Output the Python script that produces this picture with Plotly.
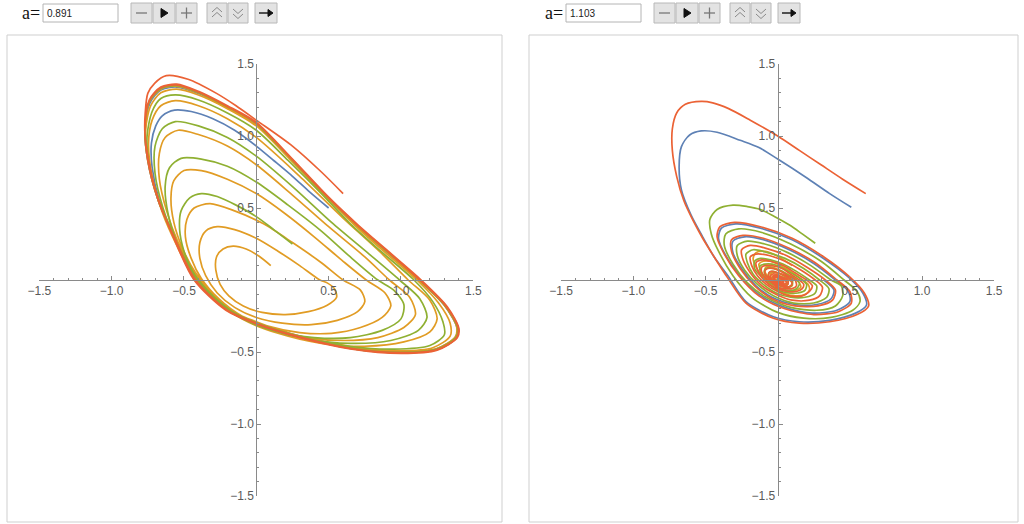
import plotly.graph_objects as go

W, H = 1024, 524

# ---------------- data ----------------
A_LABELS = ["0.891", "1.103"]
TICK_VALS = [-1.5, -1.0, -0.5, 0.5, 1.0, 1.5]
TICK_TEXT = ["\u22121.5", "\u22121.0", "\u22120.5", "0.5", "1.0", "1.5"]
SERIES_ORDER = ["blue", "orange", "green", "red"]
COLORS = {"blue": "#5E81B5", "orange": "#E19C24", "green": "#8FB032", "red": "#EB6235"}

# left panel (a = 0.891): trajectories approaching a limit cycle
LEFT_BLUE = [(0.50, 0.50), (0.37, 0.61), (0.25, 0.72), (0.12, 0.83), (0.0, 0.93), (-0.15, 1.04), (-0.30, 1.12),
             (-0.45, 1.17), (-0.565, 1.18), (-0.65, 1.14), (-0.695, 1.07), (-0.725, 0.95), (-0.72, 0.78),
             (-0.67, 0.55), (-0.56, 0.28), (-0.425, 0.0), (-0.2, -0.205), (0.0, -0.297), (0.3, -0.39),
             (0.65, -0.47), (1.0, -0.50), (1.245, -0.478), (1.378, -0.396), (1.386, -0.326), (1.30, -0.176),
             (1.122, 0.0), (0.895, 0.2), (0.695, 0.375), (0.495, 0.565), (0.25, 0.83), (0.0, 1.08),
             (-0.2, 1.195), (-0.4, 1.295), (-0.55, 1.34), (-0.66, 1.32), (-0.735, 1.23), (-0.768, 1.05),
             (-0.75, 0.83), (-0.68, 0.56), (-0.56, 0.28), (-0.42, 0.0), (-0.2, -0.21), (0.0, -0.30),
             (0.3, -0.395), (0.65, -0.475), (1.0, -0.505), (1.25, -0.483), (1.385, -0.40), (1.395, -0.33),
             (1.31, -0.18), (1.13, 0.0)]

LEFT_ORANGE = [(0.10, 0.10), (0.02, 0.165), (-0.07, 0.215), (-0.16, 0.235), (-0.23, 0.215), (-0.275, 0.16),
               (-0.28, 0.07), (-0.25, -0.03), (-0.19, -0.11), (-0.09, -0.18), (0.04, -0.225), (0.20, -0.24),
               (0.36, -0.22), (0.49, -0.175), (0.555, -0.12), (0.54, -0.06), (0.49, -0.02), (0.44, 0.0),
               (0.30, 0.10), (0.15, 0.20), (0.0, 0.29), (-0.15, 0.35), (-0.27, 0.37), (-0.35, 0.34),
               (-0.39, 0.26), (-0.39, 0.15), (-0.35, 0.03), (-0.27, -0.09), (-0.15, -0.19), (0.0, -0.26),
               (0.18, -0.30), (0.38, -0.31), (0.56, -0.28), (0.70, -0.22), (0.75, -0.15), (0.72, -0.07),
               (0.60, 0.0),
               (0.45, 0.12), (0.25, 0.26), (0.05, 0.39), (-0.15, 0.48), (-0.32, 0.53), (-0.43, 0.50),
               (-0.48, 0.42), (-0.49, 0.30), (-0.45, 0.15), (-0.38, 0.01), (-0.26, -0.13), (-0.10, -0.25),
               (0.08, -0.32), (0.30, -0.365), (0.52, -0.37), (0.72, -0.33), (0.87, -0.26), (0.93, -0.18),
               (0.89, -0.09), (0.76, 0.0),
               (0.6, 0.13), (0.4, 0.30), (0.2, 0.46), (0.0, 0.60), (-0.2, 0.70), (-0.38, 0.76), (-0.50, 0.76),
               (-0.57, 0.69), (-0.59, 0.57), (-0.57, 0.40), (-0.51, 0.22), (-0.42, 0.05), (-0.28, -0.12),
               (-0.10, -0.26), (0.10, -0.34), (0.35, -0.40), (0.60, -0.42), (0.84, -0.40), (1.02, -0.33),
               (1.10, -0.24), (1.06, -0.12), (0.92, 0.0),
               (0.75, 0.16), (0.5, 0.37), (0.25, 0.59), (0.0, 0.80), (-0.2, 0.93), (-0.40, 1.01), (-0.54, 1.04),
               (-0.63, 0.99), (-0.67, 0.88), (-0.67, 0.70), (-0.62, 0.48), (-0.54, 0.26), (-0.43, 0.05),
               (-0.28, -0.13), (-0.10, -0.27), (0.15, -0.37), (0.45, -0.44), (0.75, -0.46), (1.02, -0.43),
               (1.20, -0.36), (1.25, -0.27), (1.20, -0.14), (1.05, 0.0),
               (0.85, 0.20), (0.6, 0.43), (0.3, 0.72), (0.0, 0.99), (-0.2, 1.12), (-0.40, 1.21), (-0.56, 1.245),
               (-0.66, 1.21), (-0.72, 1.11), (-0.745, 0.95), (-0.72, 0.72), (-0.65, 0.47), (-0.55, 0.24),
               (-0.43, 0.02), (-0.22, -0.19), (0.0, -0.29), (0.30, -0.39), (0.65, -0.46), (1.0, -0.49),
               (1.22, -0.47), (1.34, -0.39), (1.34, -0.30), (1.26, -0.16), (1.11, 0.0),
               (0.88, 0.20), (0.68, 0.38), (0.48, 0.58), (0.25, 0.82), (0.0, 1.07), (-0.2, 1.19), (-0.40, 1.285),
               (-0.55, 1.325), (-0.66, 1.30), (-0.73, 1.21), (-0.765, 1.04), (-0.745, 0.82), (-0.675, 0.55),
               (-0.555, 0.275), (-0.42, 0.0), (-0.2, -0.205), (0.0, -0.295), (0.3, -0.39), (0.65, -0.47),
               (1.0, -0.50), (1.245, -0.478), (1.375, -0.395), (1.385, -0.325), (1.30, -0.175), (1.125, 0.0),
               (0.9, 0.2), (0.7, 0.375), (0.5, 0.565), (0.25, 0.83), (0.0, 1.085), (-0.2, 1.2), (-0.4, 1.3),
               (-0.55, 1.345), (-0.66, 1.325), (-0.74, 1.235), (-0.77, 1.05)]

LEFT_GREEN = [(0.25, 0.25), (0.12, 0.35), (0.0, 0.44), (-0.14, 0.52), (-0.27, 0.58), (-0.38, 0.60), (-0.46, 0.57),
              (-0.52, 0.48), (-0.53, 0.35), (-0.50, 0.20), (-0.44, 0.06), (-0.35, -0.06), (-0.22, -0.18),
              (-0.05, -0.29), (0.15, -0.36), (0.40, -0.40), (0.65, -0.40), (0.87, -0.35), (1.00, -0.27),
              (1.02, -0.17), (0.95, -0.07), (0.84, 0.0),
              (0.65, 0.16), (0.45, 0.34), (0.22, 0.52), (0.0, 0.68), (-0.2, 0.79), (-0.38, 0.84), (-0.52, 0.845),
              (-0.60, 0.78), (-0.63, 0.65), (-0.61, 0.46), (-0.55, 0.26), (-0.46, 0.07), (-0.33, -0.10),
              (-0.15, -0.24), (0.08, -0.34), (0.35, -0.41), (0.65, -0.44), (0.93, -0.42), (1.12, -0.35),
              (1.18, -0.26), (1.13, -0.13), (0.99, 0.0),
              (0.78, 0.18), (0.52, 0.40), (0.26, 0.64), (0.0, 0.86), (-0.2, 0.99), (-0.40, 1.07), (-0.56, 1.10),
              (-0.65, 1.05), (-0.70, 0.93), (-0.70, 0.74), (-0.645, 0.50), (-0.555, 0.27), (-0.43, 0.04),
              (-0.25, -0.16), (-0.05, -0.28), (0.25, -0.38), (0.60, -0.455), (0.95, -0.48), (1.20, -0.455),
              (1.30, -0.38), (1.29, -0.29), (1.22, -0.15), (1.09, 0.0),
              (0.86, 0.20), (0.65, 0.39), (0.45, 0.60), (0.22, 0.83), (0.0, 1.04), (-0.2, 1.16), (-0.40, 1.25),
              (-0.56, 1.285), (-0.66, 1.26), (-0.72, 1.17), (-0.755, 1.00), (-0.74, 0.80), (-0.67, 0.54),
              (-0.555, 0.27), (-0.42, 0.0), (-0.2, -0.205), (0.0, -0.297), (0.3, -0.392), (0.65, -0.472),
              (1.0, -0.502), (1.25, -0.48), (1.38, -0.397), (1.39, -0.327), (1.305, -0.178), (1.128, 0.0),
              (0.9, 0.203), (0.7, 0.378), (0.5, 0.568), (0.25, 0.833), (0.0, 1.088), (-0.2, 1.203),
              (-0.4, 1.303), (-0.55, 1.35), (-0.66, 1.33), (-0.74, 1.24), (-0.77, 1.05), (-0.75, 0.83),
              (-0.68, 0.56), (-0.56, 0.28), (-0.42, 0.0), (-0.2, -0.21), (0.0, -0.30), (0.3, -0.395),
              (0.65, -0.475), (1.0, -0.505), (1.25, -0.483), (1.385, -0.40), (1.395, -0.33), (1.31, -0.18),
              (1.13, 0.0), (0.9, 0.205), (0.7, 0.38), (0.5, 0.57), (0.25, 0.835), (0.0, 1.09)]

LEFT_RED = [(0.60, 0.60), (0.45, 0.75), (0.25, 0.93), (0.0, 1.11), (-0.14, 1.21), (-0.275, 1.296), (-0.472, 1.394),
            (-0.622, 1.419), (-0.703, 1.366), (-0.75, 1.296), (-0.768, 1.157), (-0.77, 1.02), (-0.745, 0.83),
            (-0.69, 0.60), (-0.57, 0.29), (-0.43, 0.0), (-0.21, -0.21), (0.0, -0.305), (0.30, -0.40),
            (0.65, -0.478), (1.0, -0.51), (1.25, -0.488), (1.39, -0.40), (1.40, -0.335), (1.32, -0.185),
            (1.14, 0.0), (0.9, 0.21), (0.7, 0.385), (0.5, 0.575), (0.25, 0.84), (0.0, 1.095), (-0.2, 1.21),
            (-0.40, 1.31), (-0.55, 1.36), (-0.66, 1.34), (-0.74, 1.25), (-0.77, 1.06), (-0.75, 0.83),
            (-0.68, 0.56), (-0.56, 0.28), (-0.42, 0.0), (-0.2, -0.21), (0.0, -0.30), (0.3, -0.395),
            (0.65, -0.475), (1.0, -0.505), (1.25, -0.483), (1.385, -0.40), (1.395, -0.33), (1.31, -0.18),
            (1.13, 0.0), (0.9, 0.205), (0.7, 0.38), (0.5, 0.57), (0.25, 0.835), (0.0, 1.09), (-0.2, 1.205),
            (-0.40, 1.305), (-0.55, 1.355), (-0.66, 1.335), (-0.74, 1.245), (-0.77, 1.055), (-0.75, 0.83),
            (-0.68, 0.56), (-0.56, 0.28), (-0.42, 0.0), (-0.2, -0.21), (0.0, -0.30), (0.3, -0.395),
            (0.65, -0.475), (1.0, -0.505), (1.25, -0.483), (1.385, -0.40), (1.395, -0.33), (1.31, -0.18),
            (1.13, 0.0), (0.9, 0.205)]

# right panel (a = 1.103): trajectories spiralling into the origin
RIGHT_BLUE = [(0.51, 0.505), (0.36, 0.60), (0.20, 0.71), (0.0, 0.84), (-0.13, 0.92), (-0.26, 0.97), (-0.42, 1.026),
              (-0.53, 1.035), (-0.61, 1.007), (-0.667, 0.926), (-0.683, 0.787), (-0.667, 0.625), (-0.60, 0.45),
              (-0.52, 0.30), (-0.44, 0.16), (-0.345, 0.03), (-0.22, -0.15), (-0.03, -0.255), (0.15, -0.29),
              (0.36, -0.28), (0.54, -0.23), (0.615, -0.175), (0.59, -0.09), (0.49, 0.02), (0.31, 0.155),
              (0.10, 0.28), (-0.12, 0.36), (-0.29, 0.39), (-0.39, 0.36), (-0.41, 0.29), (-0.36, 0.17),
              (-0.26, 0.03), (-0.13, -0.10), (0.05, -0.19), (0.24, -0.23), (0.41, -0.21), (0.50, -0.15),
              (0.49, -0.08), (0.40, 0.0), (0.25, 0.115), (0.08, 0.21), (-0.10, 0.28), (-0.23, 0.30),
              (-0.31, 0.27), (-0.31, 0.19), (-0.25, 0.08), (-0.15, -0.04), (-0.04, -0.12), (0.12, -0.17),
              (0.27, -0.17), (0.37, -0.13), (0.39, -0.07), (0.32, 0.0)]

RIGHT_ORANGE = [(0.10, 0.10), (0.04, 0.14), (-0.03, 0.18), (-0.10, 0.20), (-0.15, 0.19), (-0.17, 0.15), (-0.15, 0.09),
                (-0.10, 0.02), (-0.04, -0.04), (0.04, -0.09), (0.12, -0.11), (0.19, -0.10), (0.22, -0.07),
                (0.21, -0.03), (0.16, 0.01), (0.09, 0.06), (0.02, 0.10), (-0.05, 0.13), (-0.10, 0.13),
                (-0.13, 0.11), (-0.12, 0.07), (-0.09, 0.02), (-0.04, -0.02), (0.02, -0.06), (0.08, -0.08),
                (0.13, -0.07), (0.16, -0.05), (0.15, -0.02), (0.12, 0.01), (0.07, 0.04), (0.01, 0.07),
                (-0.04, 0.09), (-0.08, 0.09), (-0.09, 0.07), (-0.08, 0.04), (-0.05, 0.01), (-0.01, -0.02),
                (0.03, -0.04), (0.07, -0.05), (0.10, -0.04), (0.10, -0.02), (0.08, 0.0), (0.04, 0.03),
                (0.0, 0.05), (-0.04, 0.05), (-0.05, 0.04), (-0.04, 0.01), (-0.01, -0.01), (0.03, -0.03),
                (0.06, -0.03), (0.06, -0.01), (0.03, 0.01), (0.0, 0.03), (-0.03, 0.03), (-0.03, 0.01),
                (0.0, -0.01), (0.03, -0.02), (0.03, 0.0), (0.0, 0.01), (-0.01, 0.0), (0.0, 0.0)]

RIGHT_GREEN = [(0.26, 0.255), (0.17, 0.32), (0.085, 0.38), (-0.02, 0.44), (-0.12, 0.49), (-0.21, 0.51), (-0.31, 0.52),
               (-0.42, 0.49), (-0.47, 0.42), (-0.46, 0.32), (-0.41, 0.20), (-0.31, 0.03), (-0.18, -0.12),
               (0.0, -0.225), (0.18, -0.265), (0.37, -0.26), (0.52, -0.21), (0.57, -0.15), (0.55, -0.08),
               (0.46, 0.0), (0.30, 0.13), (0.09, 0.25), (-0.11, 0.33), (-0.27, 0.355), (-0.36, 0.32),
               (-0.37, 0.24), (-0.31, 0.11), (-0.21, -0.02), (-0.08, -0.12), (0.09, -0.19), (0.27, -0.21),
               (0.40, -0.18), (0.45, -0.11), (0.44, -0.04),
               (0.37, 0.0), (0.23, 0.10), (0.07, 0.19), (-0.09, 0.25), (-0.21, 0.27), (-0.28, 0.24),
               (-0.28, 0.17), (-0.23, 0.07), (-0.14, -0.03), (-0.03, -0.11), (0.11, -0.16), (0.25, -0.16),
               (0.34, -0.12), (0.355, -0.06),
               (0.29, 0.0), (0.18, 0.08), (0.05, 0.15), (-0.07, 0.19), (-0.17, 0.21), (-0.22, 0.18),
               (-0.21, 0.12), (-0.17, 0.04), (-0.10, -0.03), (-0.01, -0.09), (0.09, -0.12), (0.19, -0.12),
               (0.26, -0.09), (0.27, -0.04),
               (0.22, 0.0), (0.13, 0.06), (0.04, 0.11), (-0.05, 0.14), (-0.12, 0.15), (-0.16, 0.13),
               (-0.16, 0.08), (-0.12, 0.03), (-0.07, -0.02), (0.0, -0.07), (0.07, -0.09), (0.14, -0.09),
               (0.19, -0.07), (0.20, -0.03),
               (0.17, 0.0), (0.10, 0.045), (0.03, 0.085), (-0.04, 0.11), (-0.09, 0.11), (-0.12, 0.10),
               (-0.12, 0.06), (-0.09, 0.02), (-0.05, -0.02), (0.0, -0.05), (0.06, -0.07), (0.11, -0.07),
               (0.14, -0.05), (0.15, -0.02),
               (0.13, 0.0), (0.07, 0.035), (0.02, 0.065), (-0.03, 0.08), (-0.07, 0.085), (-0.09, 0.07),
               (-0.09, 0.04), (-0.06, 0.01), (-0.03, -0.02), (0.01, -0.04), (0.05, -0.05), (0.08, -0.05),
               (0.10, -0.03),
               (0.10, 0.0), (0.05, 0.03), (0.0, 0.05), (-0.04, 0.06), (-0.06, 0.05), (-0.06, 0.02),
               (-0.03, -0.01), (0.01, -0.03), (0.05, -0.04), (0.07, -0.03), (0.07, 0.0), (0.03, 0.02),
               (-0.01, 0.03), (-0.03, 0.02), (-0.02, 0.0), (0.01, -0.01), (0.0, 0.0)]

RIGHT_RED = [(0.61, 0.60), (0.45, 0.70), (0.30, 0.80), (0.15, 0.90), (0.0, 1.0), (-0.19, 1.11), (-0.34, 1.19),
             (-0.45, 1.23), (-0.53, 1.24), (-0.64, 1.22), (-0.70, 1.16), (-0.73, 1.05), (-0.73, 0.90),
             (-0.70, 0.72), (-0.65, 0.55), (-0.585, 0.41), (-0.52, 0.29), (-0.44, 0.16), (-0.35, 0.02),
             (-0.22, -0.16), (-0.03, -0.266), (0.15, -0.30), (0.36, -0.29), (0.55, -0.24), (0.63, -0.18),
             (0.60, -0.09), (0.50, 0.02), (0.32, 0.16), (0.10, 0.29), (-0.12, 0.37), (-0.30, 0.40),
             (-0.40, 0.37), (-0.42, 0.30), (-0.37, 0.18), (-0.27, 0.03), (-0.13, -0.11), (0.05, -0.20),
             (0.25, -0.24), (0.42, -0.22), (0.51, -0.16), (0.50, -0.08),
             (0.41, 0.0), (0.26, 0.12), (0.08, 0.22), (-0.10, 0.29), (-0.24, 0.31), (-0.32, 0.28),
             (-0.32, 0.20), (-0.26, 0.08), (-0.16, -0.04), (-0.04, -0.13), (0.12, -0.18), (0.28, -0.18),
             (0.38, -0.14), (0.40, -0.07),
             (0.33, 0.0), (0.20, 0.09), (0.06, 0.17), (-0.08, 0.22), (-0.19, 0.24), (-0.25, 0.21),
             (-0.24, 0.14), (-0.19, 0.05), (-0.11, -0.04), (-0.01, -0.10), (0.10, -0.14), (0.22, -0.14),
             (0.29, -0.11), (0.31, -0.05),
             (0.26, 0.0), (0.16, 0.07), (0.05, 0.13), (-0.06, 0.17), (-0.15, 0.18), (-0.19, 0.16),
             (-0.18, 0.10), (-0.14, 0.03), (-0.08, -0.03), (0.0, -0.08), (0.08, -0.11), (0.17, -0.11),
             (0.22, -0.08), (0.24, -0.04),
             (0.20, 0.0), (0.12, 0.05), (0.04, 0.10), (-0.05, 0.13), (-0.11, 0.14), (-0.15, 0.12),
             (-0.14, 0.07), (-0.11, 0.02), (-0.06, -0.03), (0.0, -0.06), (0.07, -0.08), (0.13, -0.08),
             (0.17, -0.06), (0.18, -0.03),
             (0.15, 0.0), (0.09, 0.04), (0.03, 0.08), (-0.04, 0.10), (-0.09, 0.10), (-0.11, 0.09),
             (-0.11, 0.05), (-0.08, 0.01), (-0.04, -0.02), (0.0, -0.05), (0.05, -0.06), (0.10, -0.06),
             (0.13, -0.04),
             (0.12, 0.0), (0.07, 0.03), (0.02, 0.06), (-0.03, 0.08), (-0.07, 0.08), (-0.09, 0.06),
             (-0.08, 0.03), (-0.05, 0.0), (-0.02, -0.03), (0.02, -0.04), (0.06, -0.05), (0.09, -0.04),
             (0.10, -0.02),
             (0.09, 0.0), (0.05, 0.03), (0.0, 0.05), (-0.04, 0.06), (-0.06, 0.05), (-0.06, 0.02),
             (-0.03, -0.01), (0.01, -0.03), (0.05, -0.04), (0.07, -0.03),
             (0.07, 0.0), (0.03, 0.02), (-0.01, 0.04), (-0.04, 0.04), (-0.05, 0.02), (-0.03, -0.01),
             (0.0, -0.02), (0.04, -0.03), (0.06, -0.02),
             (0.05, 0.0), (0.02, 0.02), (-0.01, 0.03), (-0.03, 0.03), (-0.03, 0.01), (-0.01, -0.01),
             (0.02, -0.02), (0.04, -0.02),
             (0.04, 0.0), (0.02, 0.015), (-0.01, 0.025), (-0.025, 0.02), (-0.02, 0.0), (0.0, -0.015),
             (0.03, -0.015),
             (0.03, 0.0), (0.0, 0.02), (-0.02, 0.01), (-0.01, -0.01), (0.02, -0.01), (0.01, 0.0), (0.0, 0.0)]

LEFT_SERIES = {"blue": LEFT_BLUE, "orange": LEFT_ORANGE, "green": LEFT_GREEN, "red": LEFT_RED}
RIGHT_SERIES = {"blue": RIGHT_BLUE, "orange": RIGHT_ORANGE, "green": RIGHT_GREEN, "red": RIGHT_RED}

# ---------------- layout helpers (pixel geometry) ----------------
def fx(x):
    return x / W


def fy(y):
    return 1 - y / H


PANELS = [
    dict(series=LEFT_SERIES, xpix=(39.3, 473.3), ypix=(64.0, 496.0), ox=256.3, oy=280.0,
         box=(7, 35, 502, 522), dx=0),
    dict(series=RIGHT_SERIES, xpix=(561.2, 994.2), ypix=(64.0, 496.0), ox=777.7, oy=280.0,
         box=(529, 35, 1018, 522), dx=523),
]

fig = go.Figure()
shapes = []
annotations = []
AX_COLOR = "#8a8a8a"
LABEL_FONT = dict(family="Liberation Sans, Arial, sans-serif", size=12, color="#5a5a5a")

for i, p in enumerate(PANELS):
    sfx = "" if i == 0 else str(i + 1)
    xa, ya = "x" + sfx, "y" + sfx
    for name in SERIES_ORDER:
        pts = p["series"][name]
        fig.add_trace(go.Scatter(
            x=[q[0] for q in pts], y=[q[1] for q in pts], mode="lines",
            line=dict(color=COLORS[name], width=1.7, shape="spline", smoothing=0.8),
            xaxis=xa, yaxis=ya, showlegend=False, hoverinfo="skip"))
    common = dict(range=[-1.5, 1.5], showgrid=False, zeroline=False, showline=True, automargin=False,
                  linecolor=AX_COLOR, linewidth=1, ticks="inside", ticklen=4, tickcolor=AX_COLOR,
                  tickmode="array", tickvals=TICK_VALS, ticktext=TICK_TEXT, tickfont=LABEL_FONT,
                  minor=dict(ticks="inside", ticklen=2, tickcolor=AX_COLOR, tickmode="linear",
                             tick0=0, dtick=0.1, showgrid=False),
                  anchor="free", fixedrange=True)
    fig.update_layout(**{
        "xaxis" + sfx: dict(common, domain=[fx(p["xpix"][0]), fx(p["xpix"][1])],
                            position=fy(p["oy"]), side="bottom"),
        "yaxis" + sfx: dict(common, domain=[fy(p["ypix"][1]), fy(p["ypix"][0])],
                            position=fx(p["ox"]), side="left"),
    })

    # panel frame
    bx0, by0, bx1, by1 = p["box"]
    shapes.append(dict(type="rect", xref="paper", yref="paper", x0=fx(bx0), x1=fx(bx1),
                       y0=fy(by1), y1=fy(by0), line=dict(color="#cfcfcf", width=1), layer="below"))

    # control bar
    d = p["dx"]
    annotations.append(dict(text="a=", xref="paper", yref="paper", x=fx(42 + d), y=fy(13),
                            xanchor="right", yanchor="middle", showarrow=False,
                            font=dict(family="Liberation Serif, Times New Roman, serif", size=18,
                                      color="#111")))
    shapes.append(dict(type="rect", xref="paper", yref="paper", x0=fx(43 + d), x1=fx(118 + d),
                       y0=fy(22), y1=fy(4), line=dict(color="#b4b4b4", width=1), fillcolor="white"))
    annotations.append(dict(text=A_LABELS[i], xref="paper", yref="paper", x=fx(45 + d), y=fy(13.5),
                            xanchor="left", yanchor="middle", showarrow=False,
                            font=dict(family="Liberation Sans, Arial, sans-serif", size=10,
                                      color="#222")))
    buttons = [(131, 152), (153, 175), (176, 197), (207, 227), (228, 248), (255, 277)]
    for (b0, b1) in buttons:
        shapes.append(dict(type="rect", xref="paper", yref="paper", x0=fx(b0 + d), x1=fx(b1 + d),
                           y0=fy(23), y1=fy(3), line=dict(color="#b8b8b8", width=1),
                           fillcolor="#e3e3e3"))

    def seg(pts, color="#666", width=1.2, fill=None):
        path = "M " + " L ".join(f"{fx(a + d):.5f},{fy(b):.5f}" for a, b in pts)
        if fill:
            path += " Z"
        shapes.append(dict(type="path", xref="paper", yref="paper", path=path,
                           line=dict(color=color, width=width),
                           fillcolor=fill if fill else "rgba(0,0,0,0)"))

    # minus
    seg([(136, 13), (147, 13)], color="#777", width=1.3)
    # play
    seg([(161, 8.5), (168, 13), (161, 17.5)], color="#111", width=1, fill="#111")
    # plus
    seg([(181, 13), (192, 13)], color="#777", width=1.3)
    seg([(186.5, 7.5), (186.5, 18.5)], color="#777", width=1.3)
    # double up chevrons
    seg([(212, 12), (217, 7.5), (222, 12)], color="#8a8a8a", width=1)
    seg([(212, 17), (217, 12.5), (222, 17)], color="#8a8a8a", width=1)
    # double down chevrons
    seg([(233, 9), (238, 13.5), (243, 9)], color="#8a8a8a", width=1)
    seg([(233, 14), (238, 18.5), (243, 14)], color="#8a8a8a", width=1)
    # arrow
    seg([(259, 13), (269, 13)], color="#111", width=1.4)
    seg([(268, 9.5), (273, 13), (268, 16.5)], color="#111", width=1, fill="#111")

fig.update_layout(template="none", width=W, height=H, margin=dict(l=0, r=0, t=0, b=0, autoexpand=False),
                  paper_bgcolor="white", plot_bgcolor="rgba(0,0,0,0)",
                  shapes=shapes, annotations=annotations, showlegend=False)

fig.write_html("out.html", config={"displayModeBar": False},
               post_script="document.body.style.margin='0px';document.body.style.overflow='hidden';")
